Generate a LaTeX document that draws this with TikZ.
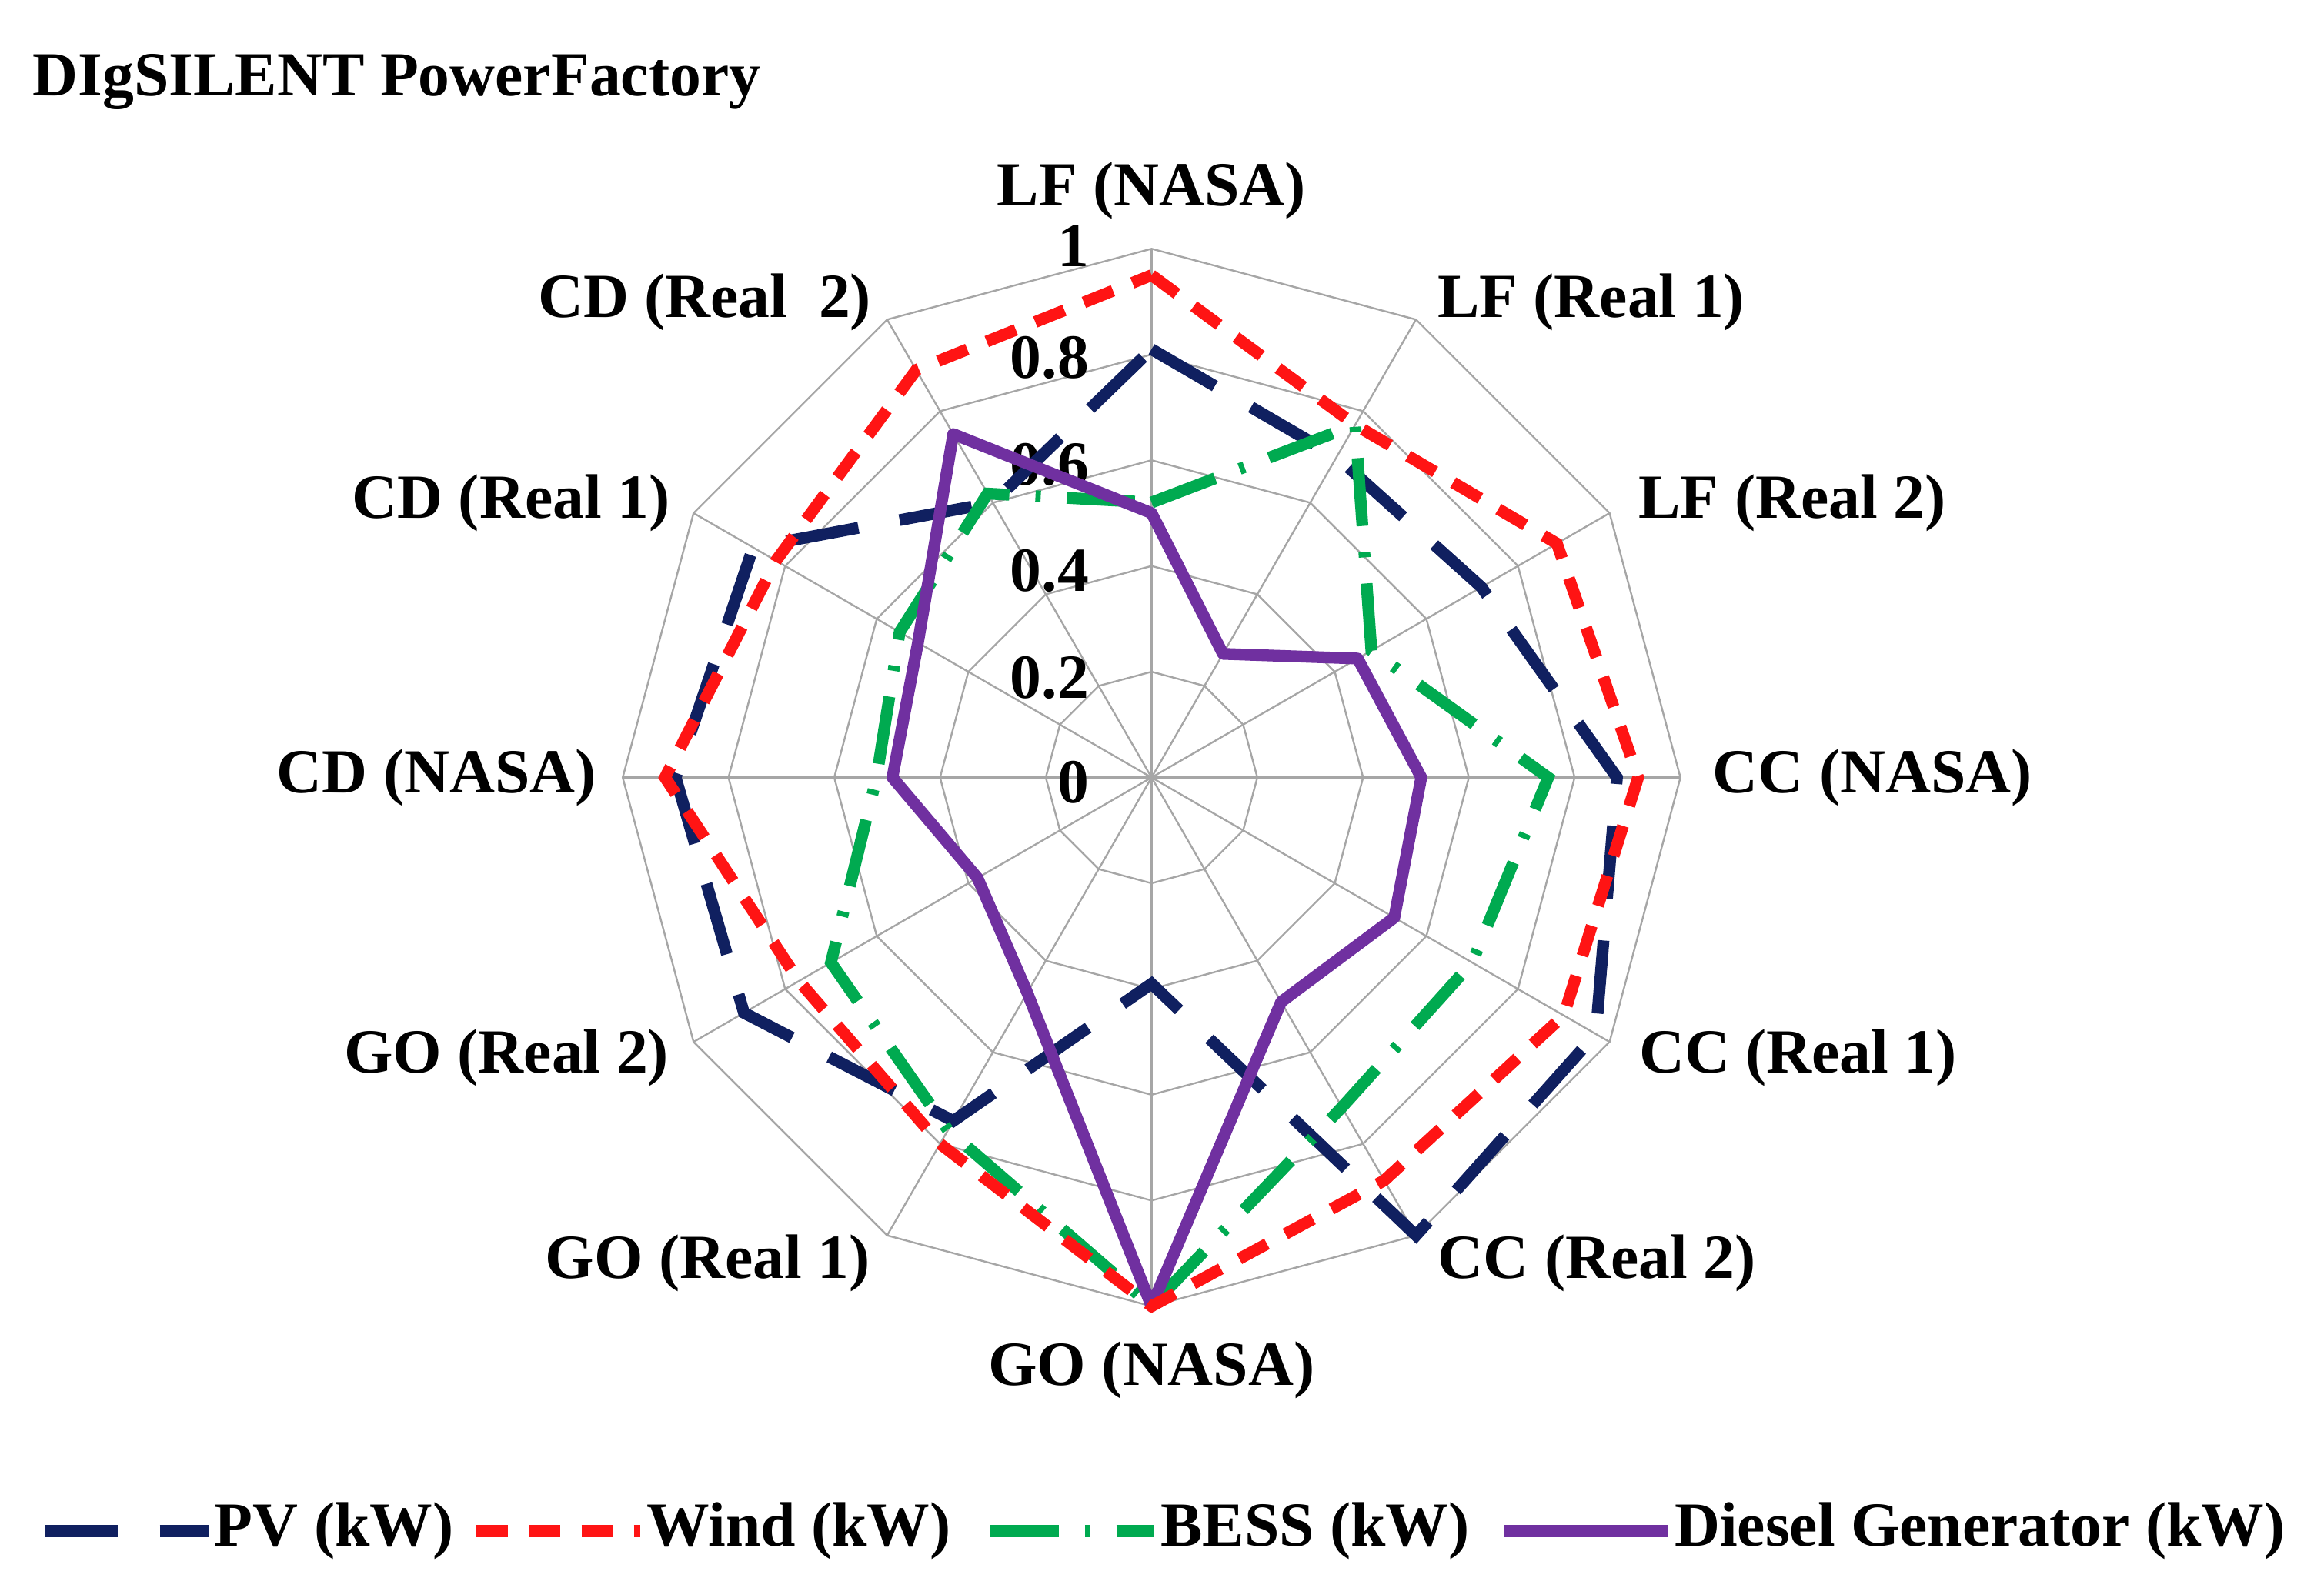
\documentclass[tikz,border=0pt]{standalone}
\usepackage{fontspec}
\setmainfont{Liberation Serif}
\definecolor{pvc}{RGB}{16,32,96}
\definecolor{windc}{RGB}{255,20,20}
\definecolor{bessc}{RGB}{0,170,80}
\definecolor{dgc}{RGB}{112,48,160}
\begin{document}
\begin{tikzpicture}[x=0.02cm,y=0.02cm,
  lab/.style={font=\fontsize{24}{28}\selectfont\bfseries,inner sep=1pt},
  grid/.style={draw=gray!70,line width=0.7pt},
  pvl/.style={pvc,line width=4.5pt,dash pattern=on 28pt off 16pt},
  windl/.style={windc,line width=4.5pt,dash pattern=on 12pt off 8pt},
  bessl/.style={bessc,line width=4.5pt,dash pattern=on 26pt off 10pt on 2pt off 10pt},
  dgl/.style={dgc,line width=4.5pt,line join=round}]
\useasboundingbox (-773,-544) rectangle (787,522);
\def\R{355}
% grid
\foreach \k in {0.2,0.4,0.6,0.8,1} {
  \draw[grid] (90:\k*\R) \foreach \i in {1,...,11} {-- ({90-30*\i}:\k*\R)} -- cycle;
}
\foreach \i in {0,...,11} \draw[grid] (0,0) -- ({90-30*\i}:\R);
% ticks
\foreach \v/\y in {1/357,0.8/282,0.6/210,0.4/139,0.2/67,0/-3}
  \node[lab,anchor=east] at (-40,\y) {\v};
% axis labels
\node[lab] (a0) at (0,394) {LF (NASA)};
\node[lab] (a1) at (295,319) {LF (Real 1)};
\node[lab] (a2) at (430,184) {LF (Real 2)};
\node[lab] (a3) at (484,0) {CC (NASA)};
\node[lab] (a4) at (434,-188) {CC (Real 1)};
\node[lab] (a5) at (299,-326) {CC (Real 2)};
\node[lab] (a6) at (0,-398) {GO (NASA)};
\node[lab] (a7) at (-298,-326) {GO (Real 1)};
\node[lab] (a8) at (-433,-188) {GO (Real 2)};
\node[lab] (a9) at (-480,0) {CD (NASA)};
\node[lab] (a10) at (-430,184) {CD (Real 1)};
\node[lab] (a11) at (-300,319) {CD (Real\ \ 2)};
\node[lab,anchor=west] (title) at (-753,467) {DIgSILENT PowerFactory};
% data
\def\plot#1#2{%
  \foreach [count=\i from 0] \v in {#2} {
    \ifnum\i=0 \xdef\pth{(90:{\v*\R})}\else\xdef\pth{\pth -- ({90-30*\i}:{\v*\R})}\fi
  }
  \draw[#1] \pth -- cycle;}
\plot{pvl}{0.81,0.7,0.72,0.88,0.97,1.0,0.39,0.75,0.89,0.9,0.87,0.6}
\plot{bessl}{0.52,0.77,0.48,0.75,0.7,0.72,1.0,0.77,0.7,0.52,0.55,0.62}
\plot{dgl}{0.5,0.27,0.45,0.51,0.53,0.49,1.0,0.47,0.38,0.49,0.51,0.75}
\plot{windl}{0.95,0.77,0.885,0.92,0.9,0.88,1.0,0.8,0.77,0.92,0.82,0.89}
% legend
\coordinate (l1a) at (-743,-506); \coordinate (l1b) at (-633,-506);
\draw[pvl] (l1a) -- (l1b); \node[lab,anchor=west] at (-631,-506) {PV (kW)};
\coordinate (l2a) at (-453,-506); \coordinate (l2b) at (-343,-506);
\draw[windl] (l2a) -- (l2b); \node[lab,anchor=west] at (-341,-506) {Wind (kW)};
\coordinate (l3a) at (-108,-506); \coordinate (l3b) at (2,-506);
\draw[bessl] (l3a) -- (l3b); \node[lab,anchor=west] at (4,-506) {BESS (kW)};
\coordinate (l4a) at (237,-506); \coordinate (l4b) at (347,-506);
\draw[dgl] (l4a) -- (l4b); \node[lab,anchor=west] at (349,-506) {Diesel Generator (kW)};
\end{tikzpicture}
\end{document}
